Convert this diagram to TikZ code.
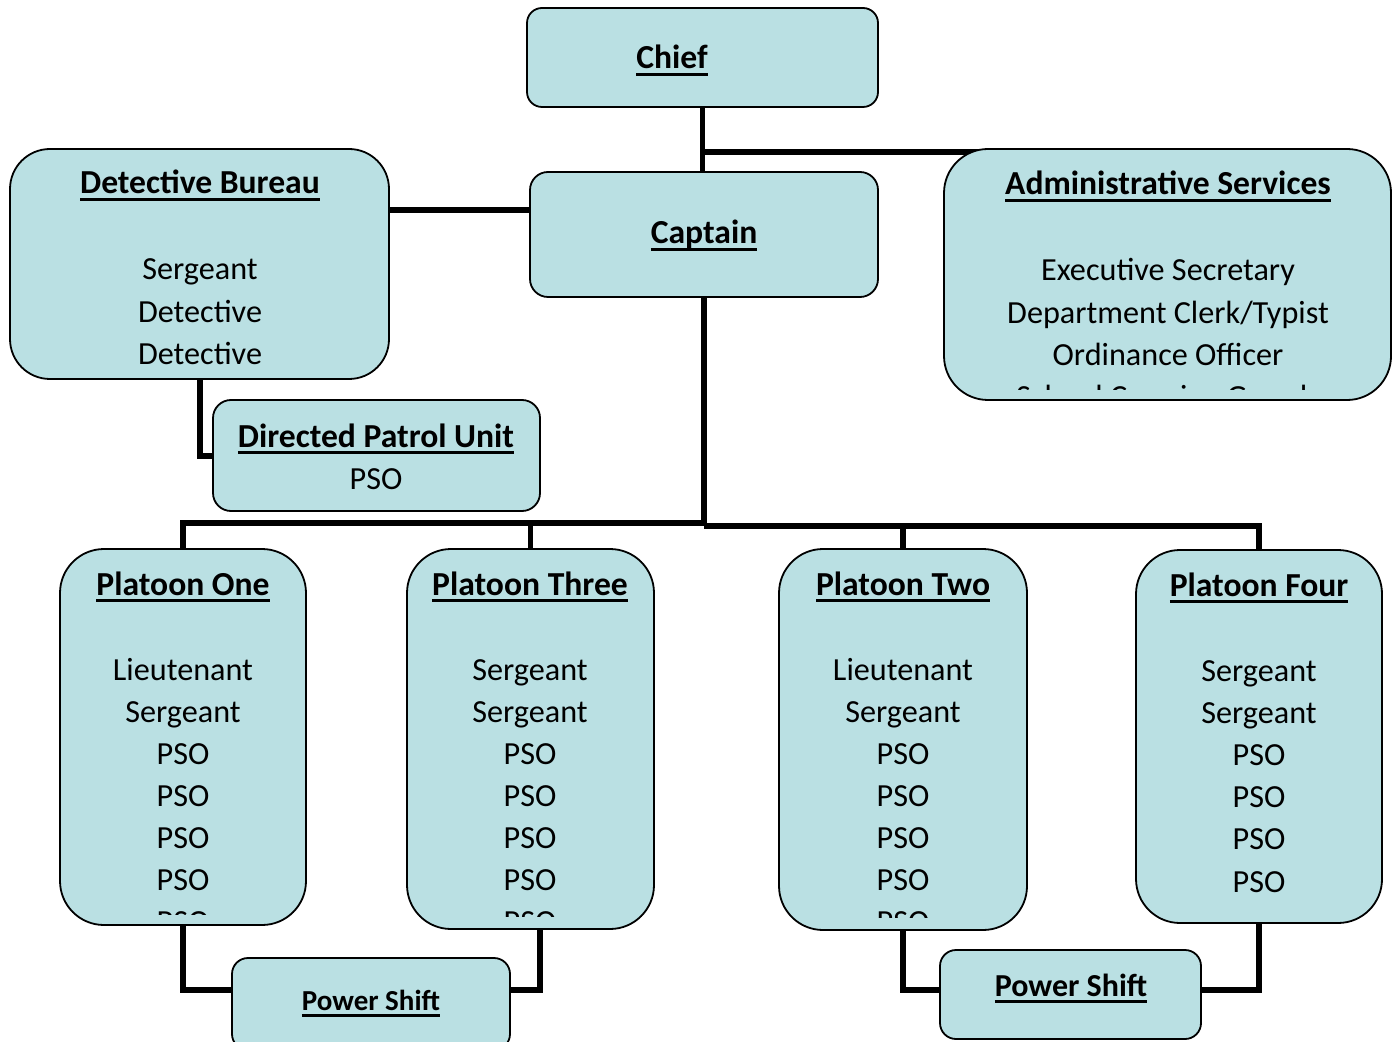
\documentclass[tikz,border=0pt]{standalone}
\usepackage{fontspec}
\setmainfont{Carlito}
\usetikzlibrary{backgrounds}
\definecolor{boxblue}{HTML}{BAE0E3}
\newcommand\ulx[1]{\setbox0\hbox{#1}\rlap{\rule[-3.5pt]{\wd0}{1.3pt}}\box0}
\tikzset{
  orgbox/.style={draw=black, line width=0.9pt, fill=boxblue, inner sep=0pt, outer sep=0pt},
  conn/.style={draw=black, line width=2.7pt},
  txt/.style={anchor=base, inner sep=0pt, font=\fontsize{16.1}{21}\selectfont},
  ttl/.style={txt, font=\fontsize{16.8}{21}\selectfont\bfseries},
}
\begin{document}
\begin{tikzpicture}[x=0.5pt,y=-0.5pt]
\useasboundingbox (0,0) rectangle (1395,1042);

% boxes
\node[orgbox, rounded corners=7.5pt, minimum width=175.5pt, minimum height=49.5pt] (chief) at (702.5,57.5) {};
\node[orgbox, rounded corners=9pt, minimum width=174pt, minimum height=62.5pt] (captain) at (704,234.5) {};
\node[orgbox, rounded corners=20pt, minimum width=189.5pt, minimum height=115pt] (det) at (199.5,264) {};
\node[orgbox, rounded corners=22pt, minimum width=223.5pt, minimum height=125.5pt] (admin) at (1167.5,274.5) {};
\node[orgbox, rounded corners=9pt, minimum width=163.5pt, minimum height=55.5pt] (dpu) at (376.5,455.5) {};
\node[orgbox, rounded corners=22pt, minimum width=123pt, minimum height=188pt] (p1) at (183,737) {};
\node[orgbox, rounded corners=22pt, minimum width=123.5pt, minimum height=190pt] (p3) at (530.5,739) {};
\node[orgbox, rounded corners=22pt, minimum width=124pt, minimum height=190.5pt] (p2) at (903,739.5) {};
\node[orgbox, rounded corners=22pt, minimum width=123pt, minimum height=186.5pt] (p4) at (1259,736.5) {};
\node[orgbox, rounded corners=8pt, minimum width=139pt, minimum height=46pt] (ps1) at (371,1004) {};
\node[orgbox, rounded corners=8pt, minimum width=130.5pt, minimum height=44.5pt] (ps2) at (1070.5,994.5) {};

% junction coordinates
\coordinate (ja) at (703,152);
\coordinate (jd) at (300,210);
\coordinate (jdp) at (200,456);
\coordinate (bus) at (704,523);
\coordinate (busr) at (704,526);
\coordinate (jp1) at (183,990);
\coordinate (jp3) at (540,990);
\coordinate (jp2) at (903,990);
\coordinate (jp4) at (1259,990);

% connectors
\begin{scope}[on background layer]
\draw[conn] (chief.center) -- (chief.center |- captain.center);
\draw[conn] (chief.center) -- (chief.center |- ja) -- (ja -| admin.center);
\draw[conn] (jd -| det.center) -- (jd -| captain.center);
\draw[conn] (jdp |- det.center) -- (jdp) -- (jdp -| dpu.center);
\draw[conn] (captain.center) -- (captain.center |- bus);
\draw[conn] (p1.center) |- (bus);
\draw[conn] (p3.center) |- (bus);
\draw[conn] (p2.center) |- (busr);
\draw[conn] (p4.center) |- (busr);
\draw[conn] (p1.center) -- (jp1) -- (jp1 -| ps1.center);
\draw[conn] (jp3 |- p3.center) -- (jp3) -- (jp3 -| ps1.center);
\draw[conn] (p2.center) -- (jp2) -- (jp2 -| ps2.center);
\draw[conn] (p4.center) -- (jp4) -- (jp4 -| ps2.center);
\end{scope}

% texts
\node[ttl] (tchief) at (672,69) {\ulx{Chief}};
\node[ttl] (tcap) at (704,244) {\ulx{Captain}};

\node[ttl] (tdet) at (200,194) {\ulx{Detective Bureau}};
\foreach \t [count=\i] in {Sergeant,Detective,Detective}
  \node[txt] (det\i) at (200,280+42.5*\i-42.5) {\t};

\node[ttl] (tadm) at (1168,195) {\ulx{Administrative Services}};
\foreach \t [count=\i] in {Executive Secretary,Department Clerk/Typist,Ordinance Officer}
  \node[txt] (adm\i) at (1168,281+42.5*\i-42.5) {\t};
\begin{scope}
\clip (944,370) rectangle (1391,390);
\node[txt] (adm4) at (1168,408) {School Crossing Guards};
\end{scope}

\node[ttl] (tdpu) at (376,447) {\ulx{Directed Patrol Unit}};
\node[txt] (dpu1) at (376,489) {PSO};

\node[ttl] (tp1) at (183,595) {\ulx{Platoon One}};
\foreach \t [count=\i] in {Lieutenant,Sergeant,PSO,PSO,PSO,PSO}
  \node[txt] (p1l\i) at (183,680+42*\i-42) {\t};
\begin{scope}
\clip (60,895) rectangle (306,914);
\node[txt] (p1l7) at (183,932) {PSO};
\end{scope}

\node[ttl] (tp3) at (530,595) {\ulx{Platoon Three}};
\foreach \t [count=\i] in {Sergeant,Sergeant,PSO,PSO,PSO,PSO}
  \node[txt] (p3l\i) at (530,680+42*\i-42) {\t};
\begin{scope}
\clip (407,895) rectangle (654,916);
\node[txt] (p3l7) at (530,932) {PSO};
\end{scope}

\node[ttl] (tp2) at (903,595) {\ulx{Platoon Two}};
\foreach \t [count=\i] in {Lieutenant,Sergeant,PSO,PSO,PSO,PSO}
  \node[txt] (p2l\i) at (903,680+42*\i-42) {\t};
\begin{scope}
\clip (779,895) rectangle (1027,917);
\node[txt] (p2l7) at (903,932) {PSO};
\end{scope}

\node[ttl] (tp4) at (1259,596) {\ulx{Platoon Four}};
\foreach \t [count=\i] in {Sergeant,Sergeant,PSO,PSO,PSO,PSO}
  \node[txt] (p4l\i) at (1259,681+42.2*\i-42.2) {\t};

\node[txt, font=\fontsize{14.5}{18}\selectfont\bfseries] (tps1) at (371,1010) {\ulx{Power Shift}};
\node[txt, font=\fontsize{16}{20}\selectfont\bfseries] (tps2) at (1071,996) {\ulx{Power Shift}};
\end{tikzpicture}
\end{document}
